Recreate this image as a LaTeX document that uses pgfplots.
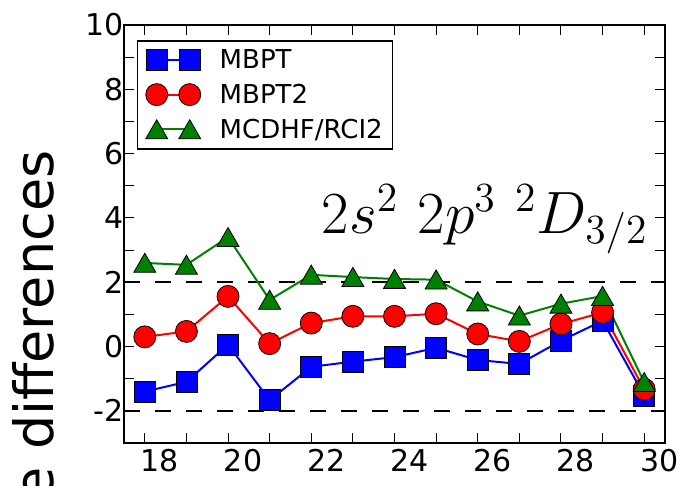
\documentclass[border=0pt]{standalone}
\usepackage[no-math]{fontspec}
\setmainfont{DejaVu Sans}
\usepackage{pgfplots}
\pgfplotsset{compat=1.18}
\definecolor{mplgreen}{rgb}{0,0.5,0}

\begin{document}
\begin{tikzpicture}[x=1pt,y=1pt]
\begin{axis}[
    at={(124pt,43pt)}, anchor=south west,
    scale only axis, width=541pt, height=418pt,
    xmin=17.5, xmax=30.5, ymin=-3, ymax=10,
    xtick={18,20,...,30}, xticklabels={18,20,22,24,26,28,30},
    minor xtick={19,21,...,29},
    ytick={-2,0,...,10}, yticklabels={-2,0,2,4,6,8,10},
    minor ytick={-1,1,...,9},
    tick align=inside,
    major tick length=10pt, minor tick length=10pt,
    every tick/.style={black, line width=1pt},
    axis line style={line width=2pt},
    ticklabel style={font=\fontsize{30}{36}\selectfont},
    xticklabel style={xshift=15pt, yshift=-3pt},
    yticklabel style={xshift=3pt},
    ylabel={Relative differences},
    ylabel style={at={(axis description cs:-0.131,0.708)}, anchor=base east,
        rotate=0, font=\fontsize{54}{60}\selectfont},
    legend style={at={(axis description cs:0.024,0.964)}, anchor=north west,
        draw=black, line width=1.5pt, fill=white,
        font=\fontsize{26}{31}\selectfont,
        inner xsep=8pt, inner ysep=7pt, row sep=10pt,
        /tikz/every odd column/.append style={column sep=17pt}},
    legend cell align=left,
    legend image code/.code={\draw[#1] plot coordinates {(0pt,0pt) (33pt,0pt)};},
]
\addplot[black, line width=2.3pt, dash pattern=on 16pt off 15pt, forget plot]
    coordinates {(17.5,2) (30.5,2)};
\addplot[black, line width=2.3pt, dash pattern=on 16pt off 15pt, forget plot]
    coordinates {(17.5,-2) (30.5,-2)};

\addplot[blue, line width=2pt, mark=square*, mark size=10.5pt,
    mark options={fill=blue, draw=black, line width=0.8pt}] coordinates {
    (18,-1.40) (19,-1.10) (20,0.06) (21,-1.67) (22,-0.63) (23,-0.47) (24,-0.33)
    (25,-0.04) (26,-0.42) (27,-0.54) (28,0.18) (29,0.80) (30,-1.52)
};
\addplot[red, line width=2pt, mark=*, mark size=11pt,
    mark options={fill=red, draw=black, line width=0.8pt}] coordinates {
    (18,0.30) (19,0.47) (20,1.56) (21,0.09) (22,0.73) (23,0.94) (24,0.94)
    (25,1.02) (26,0.39) (27,0.16) (28,0.70) (29,1.06) (30,-1.33)
};
\addplot[mplgreen, line width=2pt, mark=triangle*, mark size=12.7pt,
    mark options={fill=mplgreen, draw=black, line width=0.8pt, yshift=-3pt}] coordinates {
    (18,2.60) (19,2.54) (20,3.40) (21,1.45) (22,2.23) (23,2.16) (24,2.10)
    (25,2.08) (26,1.40) (27,0.96) (28,1.33) (29,1.57) (30,-1.11)
};
\legend{MBPT, MBPT2, MCDHF/RCI2}

\node[anchor=base east, inner sep=0pt, font=\huge, scale=2.88] at (axis cs:30.1,3.53)
    {$2s^2\ 2p^3\ {}^2D_{3/2}$};
\end{axis}
\pgfresetboundingbox
\useasboundingbox (0,0) rectangle (683,486);
\end{tikzpicture}
\end{document}
